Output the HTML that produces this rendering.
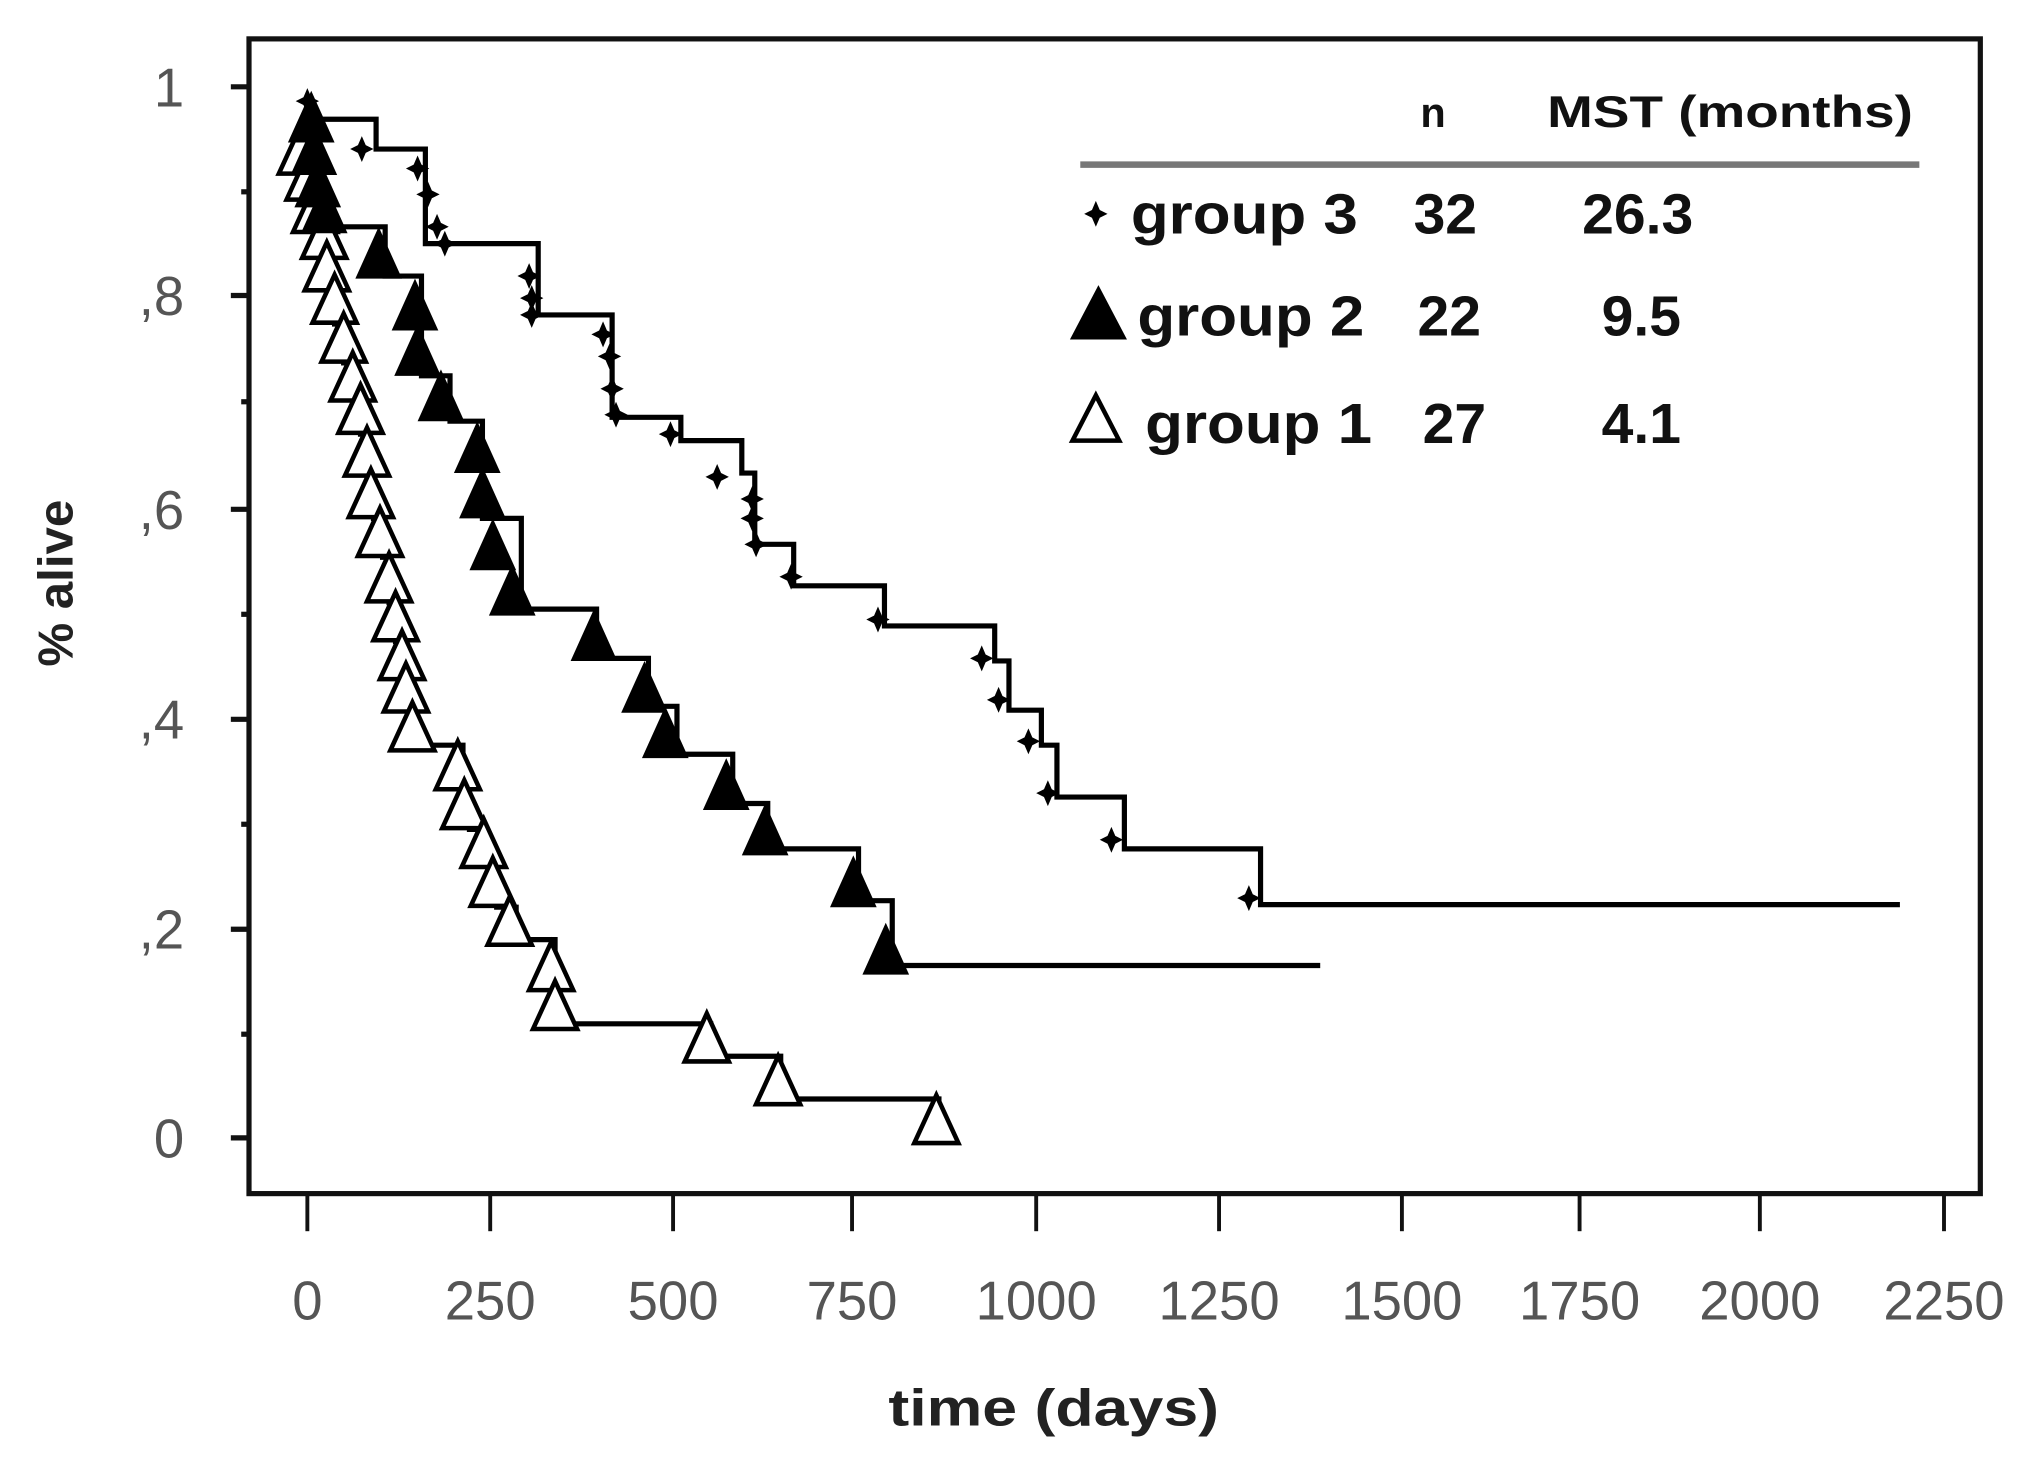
<!DOCTYPE html>
<html><head><style>
html,body{margin:0;padding:0;background:#fff;}
svg{display:block;}
</style></head><body>
<svg width="2027" height="1458" viewBox="0 0 1563 1125" preserveAspectRatio="none" xmlns="http://www.w3.org/2000/svg">
<defs>
<polygon id="ft" points="-18,0 0,-40 18,0" fill="#000"/>
<polygon id="ot" points="-17,-1 0,-38 17,-1" fill="#fff" stroke="#000" stroke-width="3.5"/>
<path id="cr" d="M0,-10 L3,-3 L9,0 L3,3 L0,10 L-3,3 L-9,0 L-3,-3 Z" fill="#000"/>
</defs>
<rect x="0" y="0" width="1563" height="1125" fill="#fff"/>
<rect x="192" y="30" width="1335" height="891" fill="none" stroke="#111" stroke-width="4"/>
<g stroke="#111" stroke-width="4">
<line x1="178" y1="67" x2="192" y2="67"/><line x1="178" y1="228" x2="192" y2="228"/>
<line x1="178" y1="393" x2="192" y2="393"/><line x1="178" y1="555" x2="192" y2="555"/>
<line x1="178" y1="717" x2="192" y2="717"/><line x1="178" y1="878" x2="192" y2="878"/>
<line x1="186" y1="148" x2="192" y2="148"/><line x1="186" y1="310" x2="192" y2="310"/>
<line x1="186" y1="474" x2="192" y2="474"/><line x1="186" y1="636" x2="192" y2="636"/>
<line x1="186" y1="798" x2="192" y2="798"/>
</g>
<g stroke="#111" stroke-width="3">
<line x1="237" y1="921" x2="237" y2="950"/><line x1="378" y1="921" x2="378" y2="950"/>
<line x1="519" y1="921" x2="519" y2="950"/><line x1="657" y1="921" x2="657" y2="950"/>
<line x1="799" y1="921" x2="799" y2="950"/><line x1="940" y1="921" x2="940" y2="950"/>
<line x1="1081" y1="921" x2="1081" y2="950"/><line x1="1218" y1="921" x2="1218" y2="950"/>
<line x1="1357" y1="921" x2="1357" y2="950"/><line x1="1499" y1="921" x2="1499" y2="950"/>
</g>
<g font-family="Liberation Sans Narrow, Liberation Sans, sans-serif" font-size="42" fill="#555" text-anchor="end">
<text x="142" y="82">1</text><text x="142" y="243">,8</text><text x="142" y="408">,6</text>
<text x="142" y="570">,4</text><text x="142" y="732">,2</text><text x="142" y="893">0</text>
</g>
<g font-family="Liberation Sans Narrow, Liberation Sans, sans-serif" font-size="42" fill="#555" text-anchor="middle">
<text x="237" y="1018">0</text><text x="378" y="1018">250</text><text x="519" y="1018">500</text>
<text x="657" y="1018">750</text><text x="799" y="1018">1000</text><text x="940" y="1018">1250</text>
<text x="1081" y="1018">1500</text><text x="1218" y="1018">1750</text><text x="1357" y="1018">2000</text>
<text x="1499" y="1018">2250</text>
</g>
<text x="685" y="1100" font-family="Liberation Sans, sans-serif" font-size="40" font-weight="bold" fill="#222" textLength="255" lengthAdjust="spacingAndGlyphs">time (days)</text>
<text transform="translate(56,450) rotate(-90)" font-family="Liberation Sans, sans-serif" font-size="38" font-weight="bold" fill="#222" text-anchor="middle">% alive</text>
<g fill="none" stroke="#000" stroke-width="4">
<path d="M237,78 V92 H290 V115 H328 V188 H415 V243 H472 V322 H525 V340 H572 V365 H582 V420 H612 V452 H682 V483 H767 V510 H778 V548 H803 V575 H815 V615 H867 V655 H972 V698 H1465"/>
<path d="M237,80 V175 H297 V213 H325 V290 H347 V325 H372 V400 H402 V470 H460 V508 H500 V545 H522 V582 H565 V620 H592 V655 H662 V695 H688 V745 H1018"/>
<path d="M237,100 H242 V180 H252 V225 H258 V250 H265 V280 H272 V310 H278 V335 H283 V368 H288 V400 H295 V430 H300 V465 H305 V495 H311 V525 H315 V550 H320 V575 H357 V605 H362 V640 H375 V668 H383 V700 H398 V725 H428 V790 H548 V815 H602 V848 H724 V880"/>
</g>
<g>
<use href="#cr" x="237" y="78"/><use href="#cr" x="240" y="92"/><use href="#cr" x="279" y="115"/>
<use href="#cr" x="322" y="130"/><use href="#cr" x="330" y="150"/><use href="#cr" x="337" y="175"/>
<use href="#cr" x="343" y="188"/><use href="#cr" x="408" y="213"/><use href="#cr" x="410" y="230"/>
<use href="#cr" x="410" y="243"/><use href="#cr" x="465" y="258"/><use href="#cr" x="470" y="275"/>
<use href="#cr" x="472" y="300"/><use href="#cr" x="475" y="320"/><use href="#cr" x="517" y="335"/>
<use href="#cr" x="553" y="368"/><use href="#cr" x="580" y="385"/><use href="#cr" x="580" y="400"/>
<use href="#cr" x="583" y="420"/><use href="#cr" x="610" y="445"/><use href="#cr" x="677" y="478"/>
<use href="#cr" x="757" y="508"/><use href="#cr" x="770" y="540"/><use href="#cr" x="793" y="572"/>
<use href="#cr" x="808" y="612"/><use href="#cr" x="857" y="648"/><use href="#cr" x="963" y="693"/>
</g>
<g>
<use href="#ot" x="232" y="135"/><use href="#ot" x="238" y="155"/><use href="#ot" x="243" y="180"/>
<use href="#ot" x="250" y="200"/><use href="#ot" x="252" y="225"/><use href="#ot" x="258" y="250"/>
<use href="#ot" x="265" y="280"/><use href="#ot" x="272" y="310"/><use href="#ot" x="278" y="335"/>
<use href="#ot" x="283" y="368"/><use href="#ot" x="286" y="400"/><use href="#ot" x="293" y="430"/>
<use href="#ot" x="300" y="465"/><use href="#ot" x="305" y="495"/><use href="#ot" x="310" y="525"/>
<use href="#ot" x="313" y="550"/><use href="#ot" x="318" y="580"/><use href="#ot" x="353" y="610"/>
<use href="#ot" x="358" y="640"/><use href="#ot" x="373" y="670"/><use href="#ot" x="380" y="700"/>
<use href="#ot" x="393" y="730"/><use href="#ot" x="425" y="765"/><use href="#ot" x="428" y="795"/>
<use href="#ot" x="545" y="820"/><use href="#ot" x="600" y="853"/><use href="#ot" x="722" y="883"/>
</g>
<g>
<use href="#ft" x="240" y="110"/><use href="#ft" x="242" y="135"/><use href="#ft" x="245" y="160"/>
<use href="#ft" x="250" y="180"/><use href="#ft" x="292" y="215"/><use href="#ft" x="320" y="255"/>
<use href="#ft" x="322" y="290"/><use href="#ft" x="340" y="325"/><use href="#ft" x="368" y="365"/>
<use href="#ft" x="372" y="400"/><use href="#ft" x="380" y="440"/><use href="#ft" x="395" y="475"/>
<use href="#ft" x="458" y="510"/><use href="#ft" x="497" y="550"/><use href="#ft" x="513" y="585"/>
<use href="#ft" x="560" y="625"/><use href="#ft" x="590" y="660"/><use href="#ft" x="658" y="700"/>
<use href="#ft" x="683" y="752"/>
</g>
<g font-family="Liberation Sans, sans-serif" font-weight="bold" fill="#111">
<text x="1105" y="98" font-size="32" text-anchor="middle">n</text>
<text x="1193" y="98" font-size="34" textLength="282" lengthAdjust="spacingAndGlyphs">MST (months)</text>
<line x1="833" y1="127" x2="1480" y2="127" stroke="#777" stroke-width="5"/>
<use href="#cr" x="845" y="165"/>
<text x="872" y="180" font-size="44" textLength="175" lengthAdjust="spacingAndGlyphs">group 3</text>
<text x="1090" y="180" font-size="44">32</text>
<text x="1220" y="180" font-size="44">26.3</text>
<polygon points="825,262 847,220 869,262" fill="#000"/>
<text x="877" y="259" font-size="44" textLength="175" lengthAdjust="spacingAndGlyphs">group 2</text>
<text x="1093" y="259" font-size="44">22</text>
<text x="1235" y="259" font-size="44">9.5</text>
<polygon points="827,340 845,305 863,340" fill="#fff" stroke="#000" stroke-width="3.5"/>
<text x="883" y="342" font-size="44" textLength="175" lengthAdjust="spacingAndGlyphs">group 1</text>
<text x="1097" y="342" font-size="44">27</text>
<text x="1235" y="342" font-size="44">4.1</text>
</g>
</svg>
</body></html>
